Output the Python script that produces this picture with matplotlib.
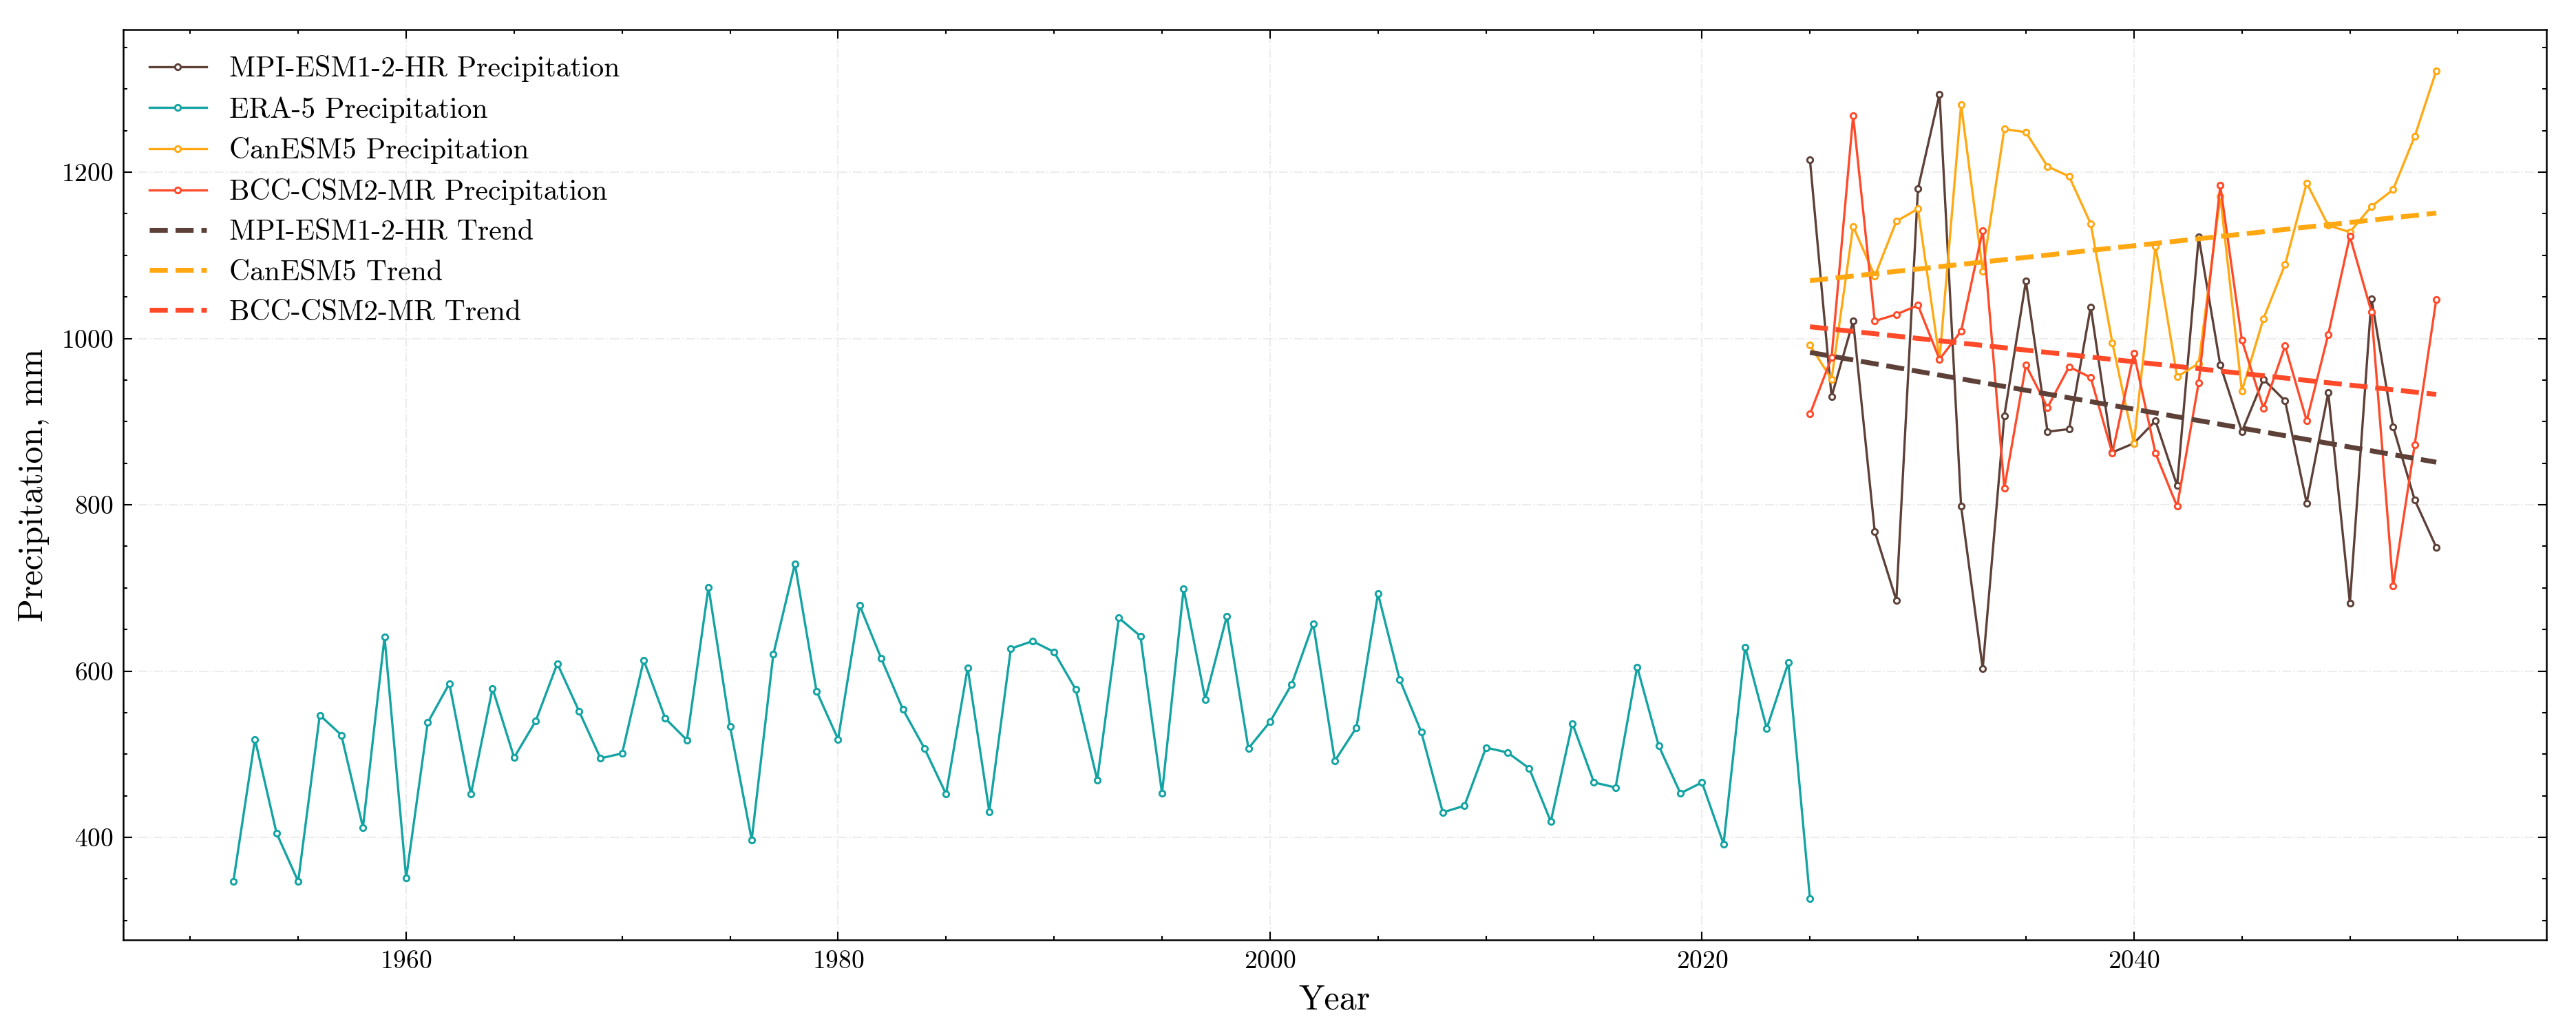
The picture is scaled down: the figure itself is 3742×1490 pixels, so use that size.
import numpy as np
import matplotlib
matplotlib.use("Agg")
import matplotlib.pyplot as plt
from matplotlib.ticker import MultipleLocator

plt.rcParams['font.family'] = ['cmr10', 'DejaVu Serif']
plt.rcParams['mathtext.fontset'] = 'cm'
plt.rcParams['axes.formatter.use_mathtext'] = True
plt.rcParams['axes.unicode_minus'] = False

# ---------------- data ----------------
era_years = list(range(1952, 2026))
era_precip = [347, 518, 405, 347, 547, 523, 412, 641, 351, 538,
              585, 452, 579, 496, 540, 609, 552, 495, 501, 613,
              543, 517, 701, 533, 397, 620, 729, 576, 518, 679,
              615, 554, 507, 452, 604, 431, 627, 636, 623, 578,
              469, 664, 642, 453, 699, 566, 666, 507, 539, 584,
              657, 492, 532, 693, 590, 527, 430, 438, 508, 502,
              483, 419, 537, 466, 460, 605, 510, 453, 466, 392,
              629, 531, 610, 326]

model_years = list(range(2025, 2055))
mpi_precip = [1215, 930, 1021, 768, 685, 1180, 1294, 798, 603, 907,
              1069, 888, 891, 1038, 863, 874, 901, 823, 1122, 968,
              888, 951, 925, 802, 935, 682, 1048, 894, 806, 749]
can_precip = [992, 951, 1135, 1075, 1141, 1156, 975, 1281, 1081, 1252,
              1248, 1207, 1195, 1138, 995, 874, 1111, 954, 970, 1171,
              937, 1024, 1089, 1187, 1136, 1128, 1159, 1179, 1243, 1322]
bcc_precip = [909, 977, 1268, 1021, 1029, 1040, 975, 1009, 1130, 820,
              968, 917, 966, 953, 862, 982, 862, 798, 947, 1184,
              998, 916, 991, 901, 1005, 1123, 1032, 702, 872, 1047]

c_mpi = '#5d4037'
c_era = '#14a3a3'
c_can = '#ffa812'
c_bcc = '#ff4a2a'

# ---------------- figure ----------------
fig = plt.figure(figsize=(3742 / 300, 1490 / 300), dpi=300)
ax = fig.add_axes([0.04784, 0.08356, 0.94067, 0.88778])

mk = dict(marker='o', markersize=2.0, markerfacecolor='white', markeredgewidth=0.7)
ax.plot(model_years, mpi_precip, color=c_mpi, lw=0.8, label='MPI-ESM1-2-HR Precipitation', **mk)
ax.plot(era_years, era_precip, color=c_era, lw=0.8, label='ERA-5 Precipitation', **mk)
ax.plot(model_years, can_precip, color=c_can, lw=0.8, label='CanESM5 Precipitation', **mk)
ax.plot(model_years, bcc_precip, color=c_bcc, lw=0.8, label='BCC-CSM2-MR Precipitation', **mk)

yrs = np.array(model_years, dtype=float)
for vals, col, lab in [(mpi_precip, c_mpi, 'MPI-ESM1-2-HR Trend'),
                       (can_precip, c_can, 'CanESM5 Trend'),
                       (bcc_precip, c_bcc, 'BCC-CSM2-MR Trend')]:
    p = np.polyfit(yrs, np.array(vals, dtype=float), 1)
    ax.plot(yrs, np.polyval(p, yrs), ls='--', color=col, lw=1.7, label=lab)

ax.set_xlabel('Year', fontsize=12)
ax.set_ylabel('Precipitation, mm', fontsize=12)

ax.xaxis.set_major_locator(MultipleLocator(20))
ax.xaxis.set_minor_locator(MultipleLocator(5))
ax.yaxis.set_major_locator(MultipleLocator(200))
ax.yaxis.set_minor_locator(MultipleLocator(50))
ax.tick_params(which='both', direction='in', top=True, right=True, labelsize=9, width=0.5)
ax.tick_params(which='major', length=3)
ax.tick_params(which='minor', length=1.5)
for s in ax.spines.values():
    s.set_linewidth(0.6)

ax.grid(True, which='major', linestyle='-.', color='#ececec', linewidth=0.5)
ax.set_axisbelow(True)

ax.legend(loc='upper left', frameon=False, fontsize=10)

fig.savefig('out.png', dpi=300)
